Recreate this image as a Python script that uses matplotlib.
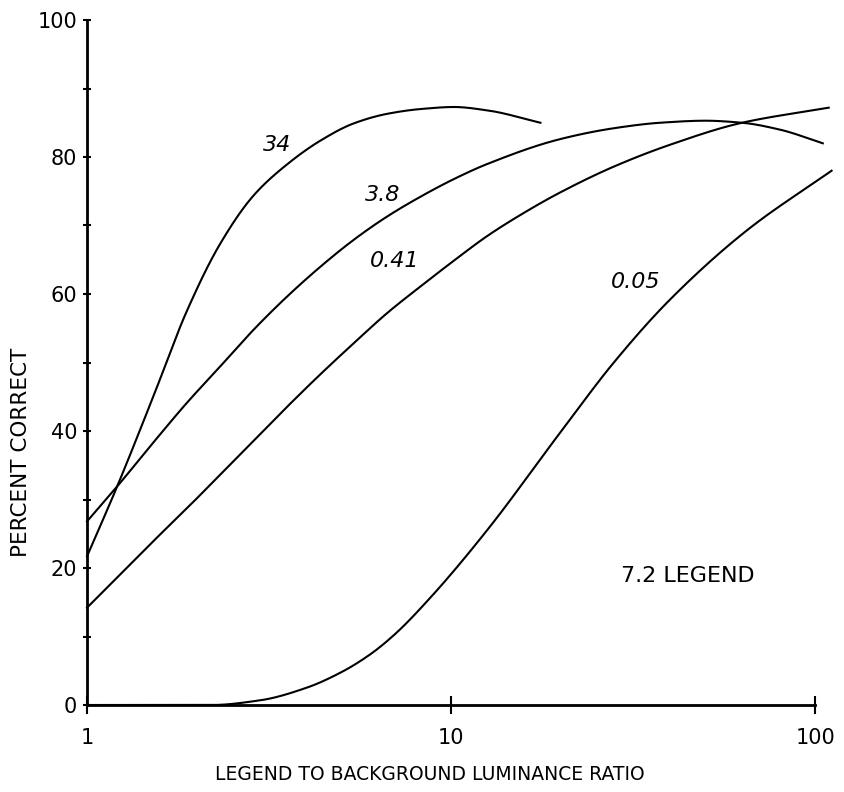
import numpy as np
import matplotlib
matplotlib.use('Agg')
import matplotlib.pyplot as plt

# curves: luminance ratio -> percent correct, one per legend luminance
x_34 = [1, 1.21, 1.52, 1.88, 2.32, 2.87, 3.54, 4.38, 5.4, 6.67, 8.24, 10.2, 12.6, 17.6]
y_34 = [21.7, 31.9, 45.0, 57.5, 67.3, 74.4, 78.9, 82.4, 84.9, 86.3, 87.0, 87.3, 86.8, 85.0]

x_38 = [1, 1.21, 1.52, 1.88, 2.32, 2.87, 3.54, 4.38, 5.4, 6.67, 8.24, 10.2, 12.6,
        19.9, 28, 37.5, 50, 63, 80, 105]
y_38 = [26.8, 31.9, 38.3, 44.1, 49.4, 54.8, 59.6, 64.0, 67.9, 71.3, 74.2, 76.8, 79.0,
        82.6, 84.2, 85.0, 85.3, 85.0, 84.0, 82.0]

x_041 = [1, 1.23, 1.52, 1.88, 2.32, 2.87, 3.54, 4.38, 5.4, 6.67, 8.24, 10.2, 12.6,
         15.8, 19.9, 28, 40, 63, 109]
y_041 = [14.2, 19.0, 23.9, 28.7, 33.6, 38.6, 43.5, 48.3, 52.8, 57.2, 61.1, 64.9, 68.5,
         71.8, 74.8, 78.6, 81.8, 85.0, 87.2]

x_005 = [1, 2.2, 3, 4, 5, 6, 7, 8.75, 12.6, 19.9, 28, 39.8, 65, 111]
y_005 = [0, 0, 0.7, 2.5, 4.8, 7.4, 10.3, 15.6, 25.6, 39.7, 50, 59.1, 69.3, 78]

curve_labels = ['34', '3.8', '0.41', '0.05']
label_x = [3.33, 6.5, 7.02, 32.2]
label_y = [81.8, 74.5, 64.8, 61.8]


def smooth(xs, ys, n=400):
    # monotone cubic (Fritsch-Carlson) through the read points, in log x
    lx = np.log10(xs)
    ys = np.asarray(ys, float)
    d = np.diff(ys) / np.diff(lx)
    m = np.zeros(len(ys))
    m[0], m[-1] = d[0], d[-1]
    for i in range(1, len(ys) - 1):
        if d[i - 1] * d[i] <= 0:
            m[i] = 0
        else:
            w1 = 2 * (lx[i + 1] - lx[i]) + (lx[i] - lx[i - 1])
            w2 = (lx[i + 1] - lx[i]) + 2 * (lx[i] - lx[i - 1])
            m[i] = (w1 + w2) / (w1 / d[i - 1] + w2 / d[i])
    t = np.linspace(lx[0], lx[-1], n)
    out = np.empty_like(t)
    for k, tv in enumerate(t):
        i = min(np.searchsorted(lx, tv, side='right') - 1, len(lx) - 2)
        h = lx[i + 1] - lx[i]
        s = (tv - lx[i]) / h
        out[k] = ((2 * s**3 - 3 * s**2 + 1) * ys[i] + (s**3 - 2 * s**2 + s) * h * m[i]
                  + (-2 * s**3 + 3 * s**2) * ys[i + 1] + (s**3 - s**2) * h * m[i + 1])
    return 10 ** t, out


fig = plt.figure(figsize=(8.45, 7.92), dpi=100)
ax = fig.add_axes([87 / 845, 87 / 792, (833 - 87) / 845, (705 - 20) / 792])

for xs, ys in [(x_34, y_34), (x_38, y_38), (x_041, y_041), (x_005, y_005)]:
    sx, sy = smooth(xs, ys)
    ax.plot(sx, sy, color='black', lw=1.5, clip_on=False)

for lab, lx, ly in zip(curve_labels, label_x, label_y):
    ax.text(lx, ly, lab, fontsize=16, style='italic', ha='center', va='center')

ax.text(44.8, 18.8, '7.2 LEGEND', fontsize=16, ha='center', va='center')

ax.set_xscale('log')
ax.set_xlim(1, 112)
ax.set_ylim(0, 100)
ax.spines['top'].set_visible(False)
ax.spines['right'].set_visible(False)
ax.spines['bottom'].set_bounds(1, 100)
for s in ['left', 'bottom']:
    ax.spines[s].set_linewidth(2)

ax.set_xticks([1, 10, 100])
ax.set_xticklabels(['1', '10', '100'])
ax.xaxis.set_minor_locator(matplotlib.ticker.NullLocator())
ax.set_yticks([0, 20, 40, 60, 80, 100])
ax.set_yticks([10, 30, 50, 70, 90], minor=True)
ax.tick_params(axis='x', direction='inout', length=13, width=1.5, pad=10, labelsize=15)
ax.tick_params(axis='y', which='both', direction='inout', length=6, width=1.5, pad=4, labelsize=15)

fig.text(430 / 845, 1 - 775 / 792, 'LEGEND TO BACKGROUND LUMINANCE RATIO',
         fontsize=13.5, ha='center', va='center')
fig.text(21 / 845, 1 - 452 / 792, 'PERCENT CORRECT', fontsize=15.5,
         rotation=90, ha='center', va='center')

fig.savefig('out.png', dpi=100)
